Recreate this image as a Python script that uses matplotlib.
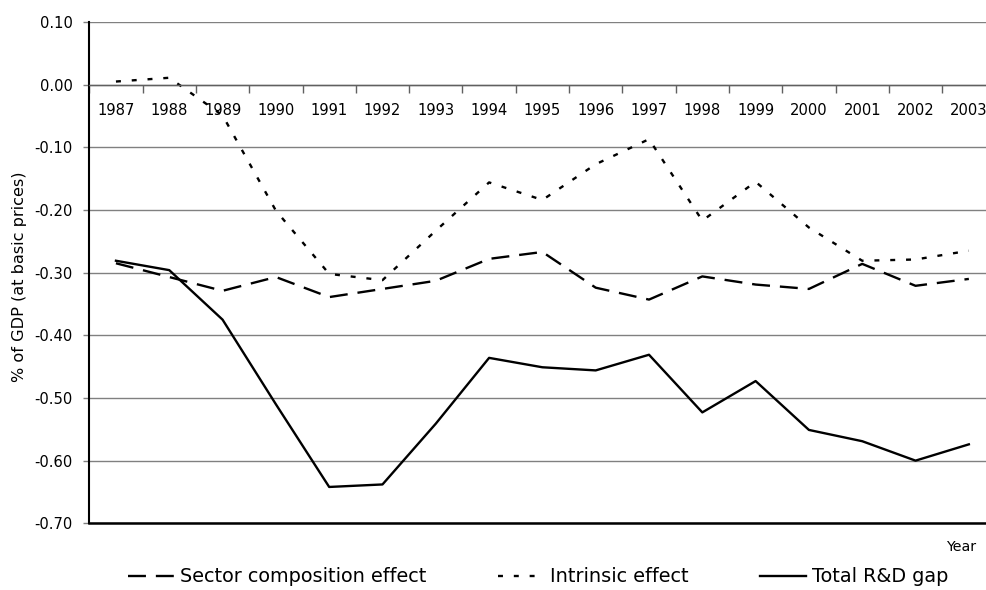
import numpy as np
import matplotlib
matplotlib.use('Agg')
import matplotlib.pyplot as plt
from matplotlib.ticker import FixedLocator

# Data
years = [str(y) for y in range(1987, 2004)]
sector = [-0.285, -0.307, -0.329, -0.307, -0.339, -0.326, -0.313, -0.278, -0.267,
          -0.324, -0.343, -0.306, -0.319, -0.326, -0.286, -0.321, -0.310]
intrinsic = [0.005, 0.011, -0.049, -0.201, -0.302, -0.312, -0.233, -0.156, -0.184,
             -0.127, -0.087, -0.217, -0.155, -0.228, -0.281, -0.279, -0.265]
total = [-0.281, -0.296, -0.375, -0.510, -0.642, -0.638, -0.541, -0.436, -0.451,
         -0.456, -0.431, -0.523, -0.473, -0.551, -0.569, -0.600, -0.574]
yticks = [-0.70, -0.60, -0.50, -0.40, -0.30, -0.20, -0.10, 0.00, 0.10]

W, H = 987, 590
fig = plt.figure(figsize=(W/100, H/100), dpi=100)
ax = fig.add_axes([89.3/W, 1-523.3/H, (995.5-89.3)/W, (523.3-22)/H])

x = np.arange(len(years))
lw = 1.7
ax.plot(x, sector, color='black', lw=lw, linestyle=(0, (7.6, 4.2)),
        label='Sector composition effect')
ax.plot(x, intrinsic, color='black', lw=lw, linestyle=(0, (2.1, 4.6)),
        label='Intrinsic effect')
ax.plot(x, total, color='black', lw=lw, linestyle='-', label='Total R&D gap')

ax.set_xlim(-0.5, len(years)-0.5)
ax.set_ylim(-0.70, 0.10)

# y axis
ax.set_yticks(yticks)
ax.set_yticklabels(['%.2f' % (v + 0.0) if abs(v) > 1e-9 else '0.00' for v in yticks],
                   fontsize=10.6)
ax.tick_params(axis='y', length=4, width=1, color='#808080', pad=8)
ax.yaxis.grid(True, color='#808080', lw=1)
ax.set_axisbelow(True)

# x axis sits on zero line, category boundary ticks
ax.spines['bottom'].set_position(('data', 0))
ax.spines['bottom'].set_color('#606060')
ax.spines['bottom'].set_linewidth(1)
ax.set_xticks(x)
ax.set_xticklabels(years, fontsize=10.6)
ax.xaxis.set_minor_locator(FixedLocator(np.arange(-0.5, len(years), 1)))
ax.tick_params(axis='x', which='major', length=0, pad=13)
ax.tick_params(axis='x', which='minor', length=6, width=1, color='#606060')
ax.spines['top'].set_visible(False)
ax.spines['right'].set_visible(False)
ax.spines['left'].set_color('black')
ax.spines['left'].set_linewidth(1.5)
ax.axhline(-0.70, color='black', lw=1.8, clip_on=False, zorder=3)

ax.set_ylabel('% of GDP (at basic prices)', fontsize=11.6)
ax.yaxis.set_label_coords(-(89.3-27)/(995.5-89.3), (523.3-277)/(523.3-22))

fig.text(961/W, 1-547/H, 'Year', fontsize=10.2, ha='center', va='center')

fig.legend(loc='center left', bbox_to_anchor=(128/W, 1-577/H), ncol=3,
           frameon=False, fontsize=13.9, handlelength=2.4, handletextpad=0.3,
           columnspacing=3.7, borderpad=0, borderaxespad=0)

fig.savefig('out.png', dpi=100)
